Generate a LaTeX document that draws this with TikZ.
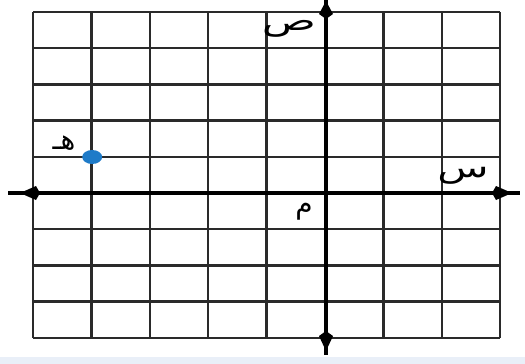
\documentclass[tikz,border=0pt]{standalone}
\usepackage{fontspec}
\newfontfamily\arabicfont[Script=Arabic]{DejaVu Sans}
\TeXXeTstate=1
\definecolor{band}{HTML}{E9EFF8}
\definecolor{dotblue}{HTML}{1E7BC8}
\definecolor{gridc}{HTML}{2A2A2A}
\begin{document}
\begin{tikzpicture}[x=1pt,y=-1pt,
  gridline/.style={draw=gridc,line width=2.4pt},
  axisline/.style={draw=black,line width=4pt},
  tipkite/.style={fill=black},
  lbl/.style={font=\arabicfont\fontsize{28}{28}\selectfont,inner sep=0pt,text=black}]
\useasboundingbox (0,0) rectangle (525,364);
\fill[white] (0,0) rectangle (525,357);
\fill[band] (0,357) rectangle (525,364);
% grid
\foreach \i in {0,...,8} {
  \pgfmathsetmacro{\xx}{33+\i*58.4}
  \draw[gridline] (\xx,12) -- (\xx,338);
}
\foreach \j in {0,...,9} {
  \pgfmathsetmacro{\yy}{12+\j*36.2}
  \draw[gridline] (33,\yy) -- (500,\yy);
}
% axes
\coordinate (xl) at (8,193);
\coordinate (xr) at (520,193);
\coordinate (yt) at (326,0);
\coordinate (yb) at (326,355);
\draw[axisline] (xl) -- (xr);
\draw[axisline] (yt) -- (yb);
% arrow kites
\fill[tipkite] (20,193) -- (36,186) -- (40,193) -- (36,200) -- cycle;
\fill[tipkite] (512,193) -- (496,186) -- (492,193) -- (496,200) -- cycle;
\fill[tipkite] (326,1) -- (319,14) -- (326,19) -- (333,14) -- cycle;
\fill[tipkite] (326,351) -- (319,336) -- (326,331) -- (333,336) -- cycle;
% point
\fill[dotblue] (92.2,157) ellipse (10 and 7);
\node[coordinate] (h) at (92.2,157) {};
% labels
\node[lbl,xscale=1.6] (sad) at (289,29) {\beginR ص\endR};
\node[lbl,xscale=1.5] (seen) at (463,176) {\beginR س\endR};
\node[lbl] (heh) at (64,143) {\beginR هـ\endR};
\node[lbl] (meem) at (304,212) {\beginR م\endR};
\end{tikzpicture}
\end{document}
